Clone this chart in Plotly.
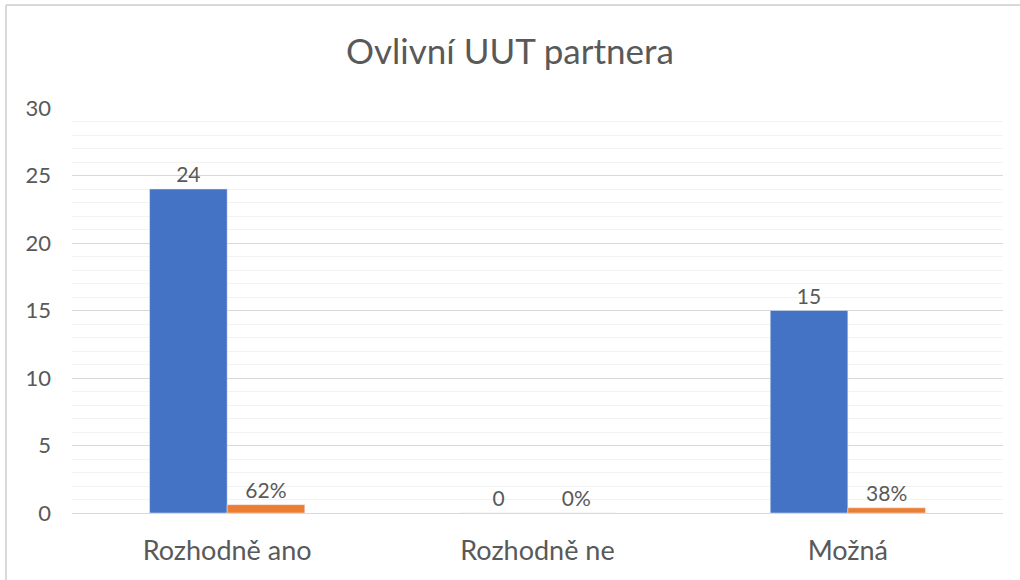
import plotly.graph_objects as go

categories = ["Rozhodně ano", "Rozhodně ne", "Možná"]
counts = [24, 0, 15]
shares = [0.62, 0.0, 0.38]
share_labels = ["62%", "0%", "38%"]
title_text = "Ovlivní UUT partnera"

FONT = "Lato, 'Open Sans', sans-serif"
W, H = 1020, 580
L, R, T, B = 72, 17, 108, 67

fig = go.Figure()
fig.add_trace(go.Bar(
    x=categories, y=counts, marker_color="#4472c4",
    text=[str(v) for v in counts], textposition="outside",
    textfont=dict(size=21, color="#595959", family=FONT),
    cliponaxis=False, name="Počet", hoverinfo="x+y",
))
fig.add_trace(go.Bar(
    x=categories, y=shares, marker_color="#ed7d31",
    text=share_labels, textposition="outside",
    textfont=dict(size=21, color="#595959", family=FONT),
    cliponaxis=False, name="Podíl", hoverinfo="x+y",
))

pw = W - L - R
ph = H - T - B
fig.add_shape(type="line", xref="paper", yref="paper",
              x0=(6 - L) / pw, x1=(6 - L) / pw, y0=(H - 600 - B) / ph, y1=(H - 5 - B) / ph,
              line=dict(color="#d9d9d9", width=2))
fig.add_shape(type="line", xref="paper", yref="paper",
              x0=(6 - L) / pw, x1=(W + 20 - L) / pw, y0=(H - 5 - B) / ph, y1=(H - 5 - B) / ph,
              line=dict(color="#d9d9d9", width=2))

fig.update_layout(
    width=W, height=H,
    margin=dict(l=L, r=R, t=T, b=B),
    paper_bgcolor="white", plot_bgcolor="white",
    barmode="group", bargap=0.5, bargroupgap=0,
    showlegend=False,
    uniformtext=dict(minsize=21, mode="show"),
    title=dict(text=title_text, x=0.5, xanchor="center", y=1 - 52 / H, yanchor="middle",
               font=dict(size=35, color="#595959", family=FONT)),
    font=dict(family=FONT, color="#595959"),
    xaxis=dict(showgrid=False, showline=False, ticks="",
               tickfont=dict(size=27, color="#595959", family=FONT),
               ticklabelstandoff=19),
    yaxis=dict(range=[0, 30], dtick=5, tick0=0, showline=False, ticks="",
               gridcolor="#d9d9d9", gridwidth=1, zeroline=True, zerolinecolor="#d9d9d9",
               zerolinewidth=1,
               tickfont=dict(size=22, color="#595959", family=FONT),
               ticklabelstandoff=20,
               minor=dict(dtick=1, showgrid=True, gridcolor="#f2f2f2", gridwidth=1)),
)

fig.write_html("out.html", config={"displayModeBar": False},
               post_script="document.body.style.margin='0px';")
